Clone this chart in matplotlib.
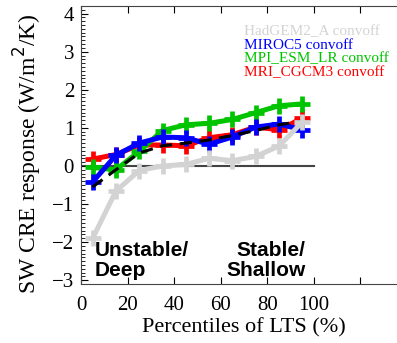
import matplotlib
matplotlib.use("Agg")
import matplotlib.pyplot as plt
import numpy as np
from matplotlib.ticker import MultipleLocator

plt.rcParams['font.family'] = ['Liberation Serif', 'DejaVu Serif']

# percentile bin centres
pct = [5, 15, 25, 35, 45, 55, 65, 75, 85, 95]

hadgem = [-1.9, -0.66, -0.12, 0.0, 0.04, 0.2, 0.14, 0.25, 0.52, 1.15]
miroc5 = [-0.42, 0.28, 0.6, 0.76, 0.74, 0.57, 0.76, 1.02, 1.1, 0.95]
mpi = [-0.04, -0.1, 0.38, 0.93, 1.08, 1.12, 1.22, 1.4, 1.58, 1.63]
mri = [0.18, 0.3, 0.55, 0.55, 0.53, 0.74, 0.82, 1.02, 0.95, 1.25]
mean = [-0.55, -0.1, 0.34, 0.53, 0.6, 0.68, 0.8, 0.93, 1.08, 1.18]

names = ["HadGEM2_A convoff", "MIROC5 convoff", "MPI_ESM_LR convoff", "MRI_CGCM3 convoff"]
colors = ["#d3d3d3", "#0000ff", "#00c400", "#ff0000"]

fig = plt.figure(figsize=(3.97, 3.43), dpi=100)
ax = fig.add_axes([81 / 397, 59 / 343, 326 / 397, 278 / 343])

ax.plot([0, 100], [0, 0], color="#444444", lw=1.5, zorder=1)

kw = dict(lw=3.6, marker="+", ms=11, mew=3.4)
ax.plot(pct, mri, color=colors[3], zorder=2, **kw)
ax.plot(pct, mpi, color=colors[2], zorder=3, **kw)
ax.plot(pct, miroc5, color=colors[1], zorder=4, **kw)
ax.plot(pct, mean, color="black", lw=2.2, ls=(0, (4, 2.5)), zorder=5)
ax.plot(pct, hadgem, color=colors[0], zorder=6, **kw)

ax.set_xlim(0, 140)
ax.set_ylim(-3.1, 4.2)
ax.set_xticks([0, 20, 40, 60, 80, 100, 120])
ax.set_xticklabels(["0", "20", "40", "60", "80", "100", ""])
ax.set_yticks(range(-3, 5))
ax.yaxis.set_minor_locator(MultipleLocator(0.1))
ax.tick_params(axis="both", direction="in", labelsize=15, length=5, width=0.8,
               top=True, right=False, pad=5)
ax.tick_params(axis="x", pad=9)
ax.tick_params(axis="y", which="minor", direction="in", length=3, width=0.6)
for s in ax.spines.values():
    s.set_color("#444444")

ax.set_xlabel("Percentiles of LTS (%)", fontsize=16, labelpad=2)
ax.set_ylabel("SW CRE response (W/m$^2$/K)", fontsize=17)
ax.yaxis.set_label_coords(-0.112, 0.47)

bold = dict(family=["Liberation Sans", "DejaVu Sans"], fontweight="bold", fontsize=15)
ax.text(6, -2.9, "Unstable/\nDeep", ha="left", va="baseline", linespacing=1.1, **bold)
ax.text(96.5, -2.9, "Stable/\nShallow", ha="right", va="baseline",
        multialignment="right", linespacing=1.1, **bold)

for i, (n, c) in enumerate(zip(names, colors)):
    fig.text(244 / 397, 1 - (35 + 13.8 * i) / 343, n, color=c, fontsize=11,
             ha="left", va="baseline")

fig.savefig("out.png", dpi=100)
